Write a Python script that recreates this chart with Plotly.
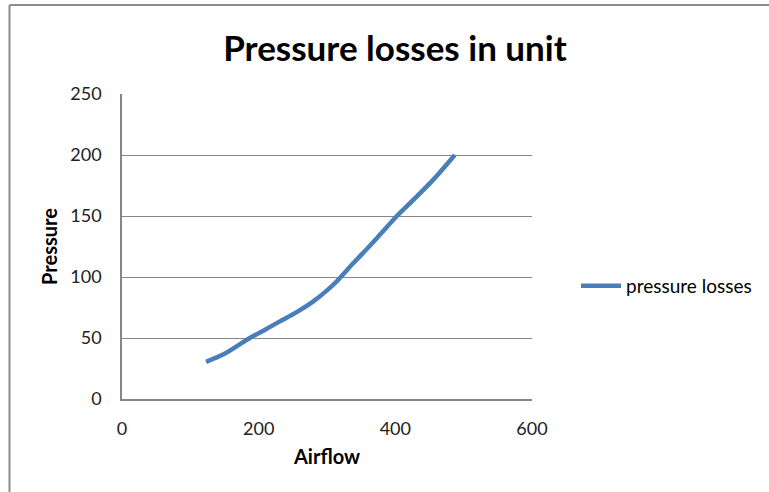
import plotly.graph_objects as go

airflow = [123, 150, 187, 210, 231, 255, 280, 300, 314, 338, 360, 378, 404, 426, 456, 487]
pressure = [30.5, 37, 50, 57, 63.6, 71, 80, 89, 96.3, 111, 124, 135, 151, 163, 180, 200]
x_ticks = [0, 200, 400, 600]
y_ticks = [0, 50, 100, 150, 200, 250]

W, H = 769, 492
L, R, T, B = 122, 532, 94, 399
pw, ph = R - L, B - T

def px(xp):
    return (xp - L) / pw

def py(yp):
    return (B - yp) / ph

font_main = "Lato, 'Open Sans', sans-serif"

fig = go.Figure()
fig.add_trace(go.Scatter(
    x=airflow, y=pressure, mode="lines", name="pressure losses",
    line=dict(color="#4a7ebb", width=4.5, shape="spline", smoothing=0.8),
))

fig.update_layout(
    width=W, height=H,
    margin=dict(l=L, r=W - R, t=T, b=H - B, autoexpand=False),
    paper_bgcolor="white", plot_bgcolor="white",
    title=dict(text="<b>Pressure losses in unit</b>", x=395 / W, xanchor="center",
               y=1 - 49 / H, yanchor="middle",
               font=dict(family=font_main, size=35, color="#000000")),
    showlegend=True,
    legend=dict(x=px(576), y=py(286), xanchor="left", yanchor="middle",
                font=dict(family=font_main, size=19, color="#000000"),
                bgcolor="rgba(0,0,0,0)", itemwidth=40, tracegroupgap=0),
    xaxis=dict(range=[0, 600], tickvals=x_ticks, showgrid=False, zeroline=False,
               showline=True, linecolor="#868686", linewidth=1.5,
               ticks="", ticklabelstandoff=13,
               tickfont=dict(family=font_main, size=18, color="#222222"),
               title=dict(text="<b>Airflow</b>", standoff=12,
                          font=dict(family=font_main, size=20, color="#000000"))),
    yaxis=dict(range=[0, 250], tickvals=y_ticks, showgrid=True, gridcolor="#868686",
               gridwidth=1, zeroline=False, showline=True, linecolor="#868686",
               linewidth=1.5, ticks="", ticklabelstandoff=15,
               tickfont=dict(family=font_main, size=18, color="#222222"),
               title=dict(text="<b>Pressure</b>", standoff=7,
                          font=dict(family=font_main, size=20, color="#000000"))),
    shapes=[
        dict(type="line", xref="paper", yref="paper", x0=px(9.5), x1=px(769),
             y0=py(5), y1=py(5), line=dict(color="#8c8c8c", width=2)),
        dict(type="line", xref="paper", yref="paper", x0=px(9.5), x1=px(9.5),
             y0=py(5), y1=py(492), line=dict(color="#8c8c8c", width=2)),
    ],
)

fig.write_html("out.html", config={"displayModeBar": False},
               post_script="document.body.style.margin='0';")
